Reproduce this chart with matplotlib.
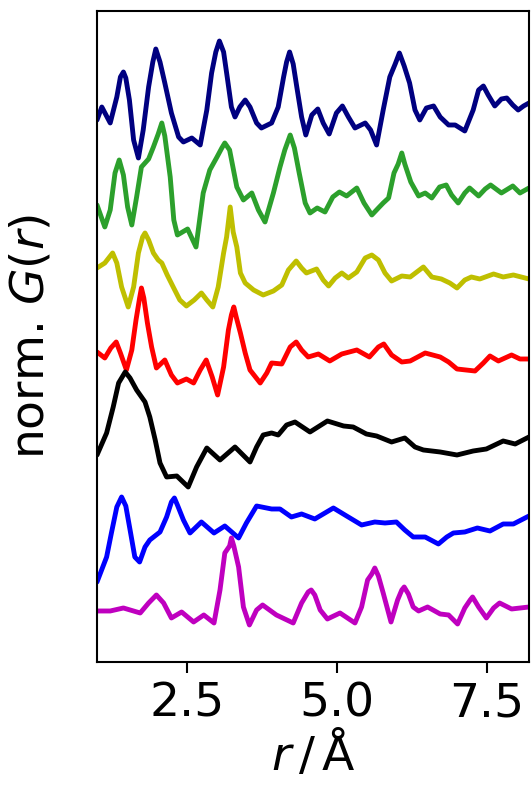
import numpy as np
import matplotlib
matplotlib.use("Agg")
import matplotlib.pyplot as plt

# stacked, normalised PDFs G(r); each curve already carries its vertical offset
r_navy = [1.00, 1.08, 1.22, 1.33, 1.39, 1.44, 1.48, 1.54, 1.61, 1.69, 1.77, 1.86, 1.93, 1.98, 2.05,
          2.13, 2.24, 2.36, 2.44, 2.58, 2.72, 2.83, 2.91, 2.98, 3.04, 3.11, 3.17, 3.24, 3.30, 3.38,
          3.47, 3.55, 3.66, 3.74, 3.91, 4.02, 4.11, 4.16, 4.21, 4.27, 4.33, 4.41, 4.48, 4.58, 4.68,
          4.77, 4.87, 4.99, 5.09, 5.19, 5.30, 5.47, 5.56, 5.66, 5.77, 5.88, 5.97, 6.04, 6.12, 6.21,
          6.30, 6.38, 6.49, 6.61, 6.72, 6.86, 6.97, 7.13, 7.27, 7.36, 7.44, 7.52, 7.63, 7.74, 7.83,
          7.93, 8.02, 8.11, 8.20]
g_navy = [5.42, 5.55, 5.39, 5.65, 5.85, 5.90, 5.84, 5.62, 5.22, 5.04, 5.32, 5.75, 6.00, 6.13, 6.00,
          5.79, 5.49, 5.25, 5.20, 5.24, 5.17, 5.52, 5.89, 6.10, 6.21, 6.10, 5.85, 5.55, 5.45, 5.55,
          5.62, 5.55, 5.39, 5.34, 5.39, 5.55, 5.85, 6.00, 6.10, 5.98, 5.75, 5.45, 5.27, 5.47, 5.53,
          5.39, 5.28, 5.49, 5.56, 5.45, 5.34, 5.39, 5.32, 5.17, 5.52, 5.85, 5.98, 6.09, 5.96, 5.79,
          5.52, 5.42, 5.54, 5.56, 5.45, 5.37, 5.37, 5.31, 5.52, 5.72, 5.76, 5.67, 5.56, 5.63, 5.64,
          5.57, 5.52, 5.56, 5.59]

r_green = [1.00, 1.13, 1.22, 1.30, 1.37, 1.44, 1.51, 1.58, 1.66, 1.74, 1.86, 1.94, 2.02, 2.08, 2.13,
           2.22, 2.28, 2.34, 2.51, 2.65, 2.77, 2.88, 3.00, 3.08, 3.13, 3.21, 3.33, 3.44, 3.58, 3.69,
           3.80, 3.94, 4.05, 4.13, 4.22, 4.29, 4.37, 4.47, 4.55, 4.67, 4.80, 4.93, 5.04, 5.16, 5.33,
           5.45, 5.58, 5.69, 5.77, 5.86, 5.95, 6.02, 6.08, 6.13, 6.23, 6.36, 6.47, 6.58, 6.71, 6.82,
           6.91, 7.02, 7.13, 7.21, 7.36, 7.47, 7.56, 7.74, 7.93, 8.05, 8.20]
g_green = [4.57, 4.35, 4.52, 4.89, 5.02, 4.87, 4.55, 4.37, 4.65, 4.95, 5.03, 5.15, 5.28, 5.39, 5.26,
           4.85, 4.42, 4.27, 4.33, 4.15, 4.69, 4.92, 5.05, 5.14, 5.19, 5.12, 4.75, 4.62, 4.69, 4.52,
           4.40, 4.69, 4.95, 5.12, 5.27, 5.14, 4.89, 4.59, 4.49, 4.54, 4.50, 4.65, 4.70, 4.66, 4.74,
           4.59, 4.47, 4.54, 4.59, 4.64, 4.89, 4.98, 5.09, 4.98, 4.80, 4.66, 4.69, 4.64, 4.75, 4.77,
           4.67, 4.59, 4.69, 4.74, 4.66, 4.73, 4.77, 4.69, 4.76, 4.69, 4.74]

r_olive = [1.00, 1.13, 1.26, 1.33, 1.41, 1.52, 1.61, 1.69, 1.76, 1.80, 1.86, 1.94, 2.02, 2.08, 2.17,
           2.27, 2.38, 2.49, 2.62, 2.74, 2.83, 2.93, 3.02, 3.11, 3.16, 3.22, 3.27, 3.33, 3.39, 3.47,
           3.61, 3.77, 3.94, 4.08, 4.19, 4.32, 4.41, 4.49, 4.66, 4.77, 4.86, 4.97, 5.08, 5.19, 5.33,
           5.47, 5.58, 5.69, 5.80, 5.91, 6.08, 6.22, 6.33, 6.44, 6.58, 6.74, 6.88, 7.00, 7.13, 7.24,
           7.38, 7.61, 7.77, 7.94, 8.20]
g_olive = [3.94, 3.99, 4.09, 3.99, 3.75, 3.55, 3.75, 4.09, 4.25, 4.29, 4.22, 4.09, 4.02, 3.99, 3.87,
           3.75, 3.62, 3.56, 3.62, 3.69, 3.62, 3.55, 3.75, 4.09, 4.25, 4.55, 4.30, 4.15, 3.89, 3.79,
           3.72, 3.67, 3.71, 3.77, 3.92, 4.01, 3.94, 3.89, 3.93, 3.82, 3.76, 3.84, 3.89, 3.84, 3.90,
           4.04, 4.07, 4.02, 3.89, 3.81, 3.86, 3.85, 3.90, 3.95, 3.85, 3.83, 3.79, 3.74, 3.82, 3.85,
           3.83, 3.88, 3.85, 3.87, 3.83]

r_red = [1.00, 1.13, 1.23, 1.32, 1.39, 1.49, 1.58, 1.65, 1.71, 1.74, 1.78, 1.84, 1.91, 1.99, 2.13,
         2.24, 2.34, 2.49, 2.61, 2.72, 2.82, 2.92, 3.01, 3.11, 3.19, 3.24, 3.28, 3.32, 3.39, 3.47,
         3.55, 3.72, 3.83, 3.91, 4.08, 4.22, 4.32, 4.41, 4.52, 4.69, 4.88, 5.08, 5.33, 5.54, 5.69,
         5.78, 5.91, 6.08, 6.22, 6.47, 6.72, 6.86, 7.00, 7.30, 7.44, 7.55, 7.69, 7.91, 8.05, 8.20]
g_red = [3.10, 3.04, 3.14, 3.20, 3.09, 2.92, 3.12, 3.42, 3.64, 3.74, 3.64, 3.39, 3.15, 2.94, 3.02,
         2.87, 2.79, 2.83, 2.79, 2.92, 3.02, 2.85, 2.67, 2.95, 3.32, 3.47, 3.55, 3.45, 3.29, 3.09,
         2.92, 2.79, 2.89, 2.99, 2.98, 3.15, 3.20, 3.12, 3.05, 3.08, 3.01, 3.08, 3.12, 3.05, 3.15,
         3.18, 3.07, 3.00, 3.01, 3.09, 3.05, 3.00, 2.93, 2.91, 2.99, 3.06, 3.01, 3.07, 3.03, 3.03]

r_black = [1.00, 1.16, 1.27, 1.36, 1.47, 1.55, 1.66, 1.80, 1.88, 1.97, 2.05, 2.16, 2.33, 2.52, 2.66,
           2.83, 3.05, 3.30, 3.55, 3.66, 3.77, 3.91, 4.02, 4.16, 4.30, 4.55, 4.84, 5.11, 5.27, 5.49,
           5.66, 5.91, 6.13, 6.30, 6.44, 6.72, 7.00, 7.27, 7.49, 7.77, 7.97, 8.20]
g_black = [2.07, 2.29, 2.55, 2.79, 2.90, 2.84, 2.72, 2.60, 2.45, 2.22, 1.99, 1.85, 1.86, 1.75, 1.95,
           2.14, 2.02, 2.15, 2.00, 2.15, 2.27, 2.29, 2.27, 2.37, 2.40, 2.30, 2.41, 2.36, 2.35, 2.28,
           2.26, 2.20, 2.24, 2.15, 2.12, 2.10, 2.07, 2.11, 2.13, 2.21, 2.18, 2.25]

r_blue = [1.00, 1.16, 1.24, 1.33, 1.41, 1.48, 1.56, 1.63, 1.71, 1.80, 1.88, 2.05, 2.16, 2.24, 2.29,
          2.34, 2.44, 2.55, 2.74, 2.95, 3.13, 3.36, 3.49, 3.66, 3.91, 4.05, 4.24, 4.41, 4.63, 4.94,
          5.16, 5.41, 5.63, 5.80, 5.99, 6.13, 6.27, 6.47, 6.69, 6.83, 6.94, 7.13, 7.34, 7.55, 7.77,
          7.94, 8.20]
g_blue = [0.80, 1.05, 1.29, 1.55, 1.65, 1.56, 1.29, 1.05, 1.00, 1.15, 1.22, 1.30, 1.45, 1.60, 1.64,
          1.57, 1.42, 1.29, 1.40, 1.29, 1.36, 1.24, 1.39, 1.56, 1.53, 1.53, 1.45, 1.48, 1.43, 1.54,
          1.46, 1.37, 1.40, 1.39, 1.40, 1.32, 1.25, 1.25, 1.18, 1.25, 1.29, 1.30, 1.34, 1.31, 1.38,
          1.38, 1.46]

r_mag = [1.00, 1.22, 1.44, 1.72, 1.86, 1.99, 2.11, 2.24, 2.41, 2.61, 2.78, 2.95, 3.05, 3.13, 3.21,
         3.24, 3.28, 3.36, 3.44, 3.54, 3.66, 3.76, 3.99, 4.27, 4.41, 4.52, 4.57, 4.63, 4.72, 4.84,
         5.05, 5.30, 5.41, 5.51, 5.58, 5.63, 5.69, 5.77, 5.90, 6.01, 6.08, 6.12, 6.19, 6.27, 6.36,
         6.51, 6.72, 6.86, 7.01, 7.13, 7.22, 7.26, 7.36, 7.49, 7.61, 7.71, 7.91, 8.20]
g_mag = [0.51, 0.51, 0.54, 0.49, 0.59, 0.67, 0.59, 0.44, 0.50, 0.40, 0.47, 0.39, 0.72, 1.09, 1.16,
         1.24, 1.16, 0.95, 0.55, 0.37, 0.52, 0.57, 0.47, 0.39, 0.59, 0.70, 0.72, 0.67, 0.52, 0.43,
         0.49, 0.39, 0.55, 0.82, 0.88, 0.94, 0.86, 0.69, 0.40, 0.62, 0.72, 0.75, 0.68, 0.55, 0.51,
         0.55, 0.48, 0.47, 0.38, 0.54, 0.62, 0.65, 0.55, 0.44, 0.54, 0.59, 0.53, 0.55]

curves = [(r_navy, g_navy, 'navy'),
          (r_green, g_green, 'tab:green'),
          (r_olive, g_olive, 'y'),
          (r_red, g_red, 'r'),
          (r_black, g_black, 'k'),
          (r_blue, g_blue, 'b'),
          (r_mag, g_mag, 'm')]

fig = plt.figure(figsize=(5.31, 7.91), dpi=100)
ax = fig.add_axes([0.1827, 0.1631, 0.8135, 0.823])

for r, g, c in curves:
    ax.plot(r, g, color=c, lw=3.5, solid_joinstyle='round', solid_capstyle='round')

ax.set_xlim(1.0, 8.2)
ax.set_ylim(0, 6.51)
ax.set_xticks([2.5, 5.0, 7.5])
ax.set_yticks([])
ax.tick_params(axis='x', labelsize=34, length=8, width=1.5, pad=6)
for s in ax.spines.values():
    s.set_linewidth(1.5)

ax.set_xlabel(r'$r\,/\,$Å', fontsize=34, labelpad=2)
ax.set_ylabel(r'norm. $G(r)$', fontsize=34)
ax.yaxis.set_label_coords(-0.1, 0.5)

fig.savefig('out.png', dpi=100)
